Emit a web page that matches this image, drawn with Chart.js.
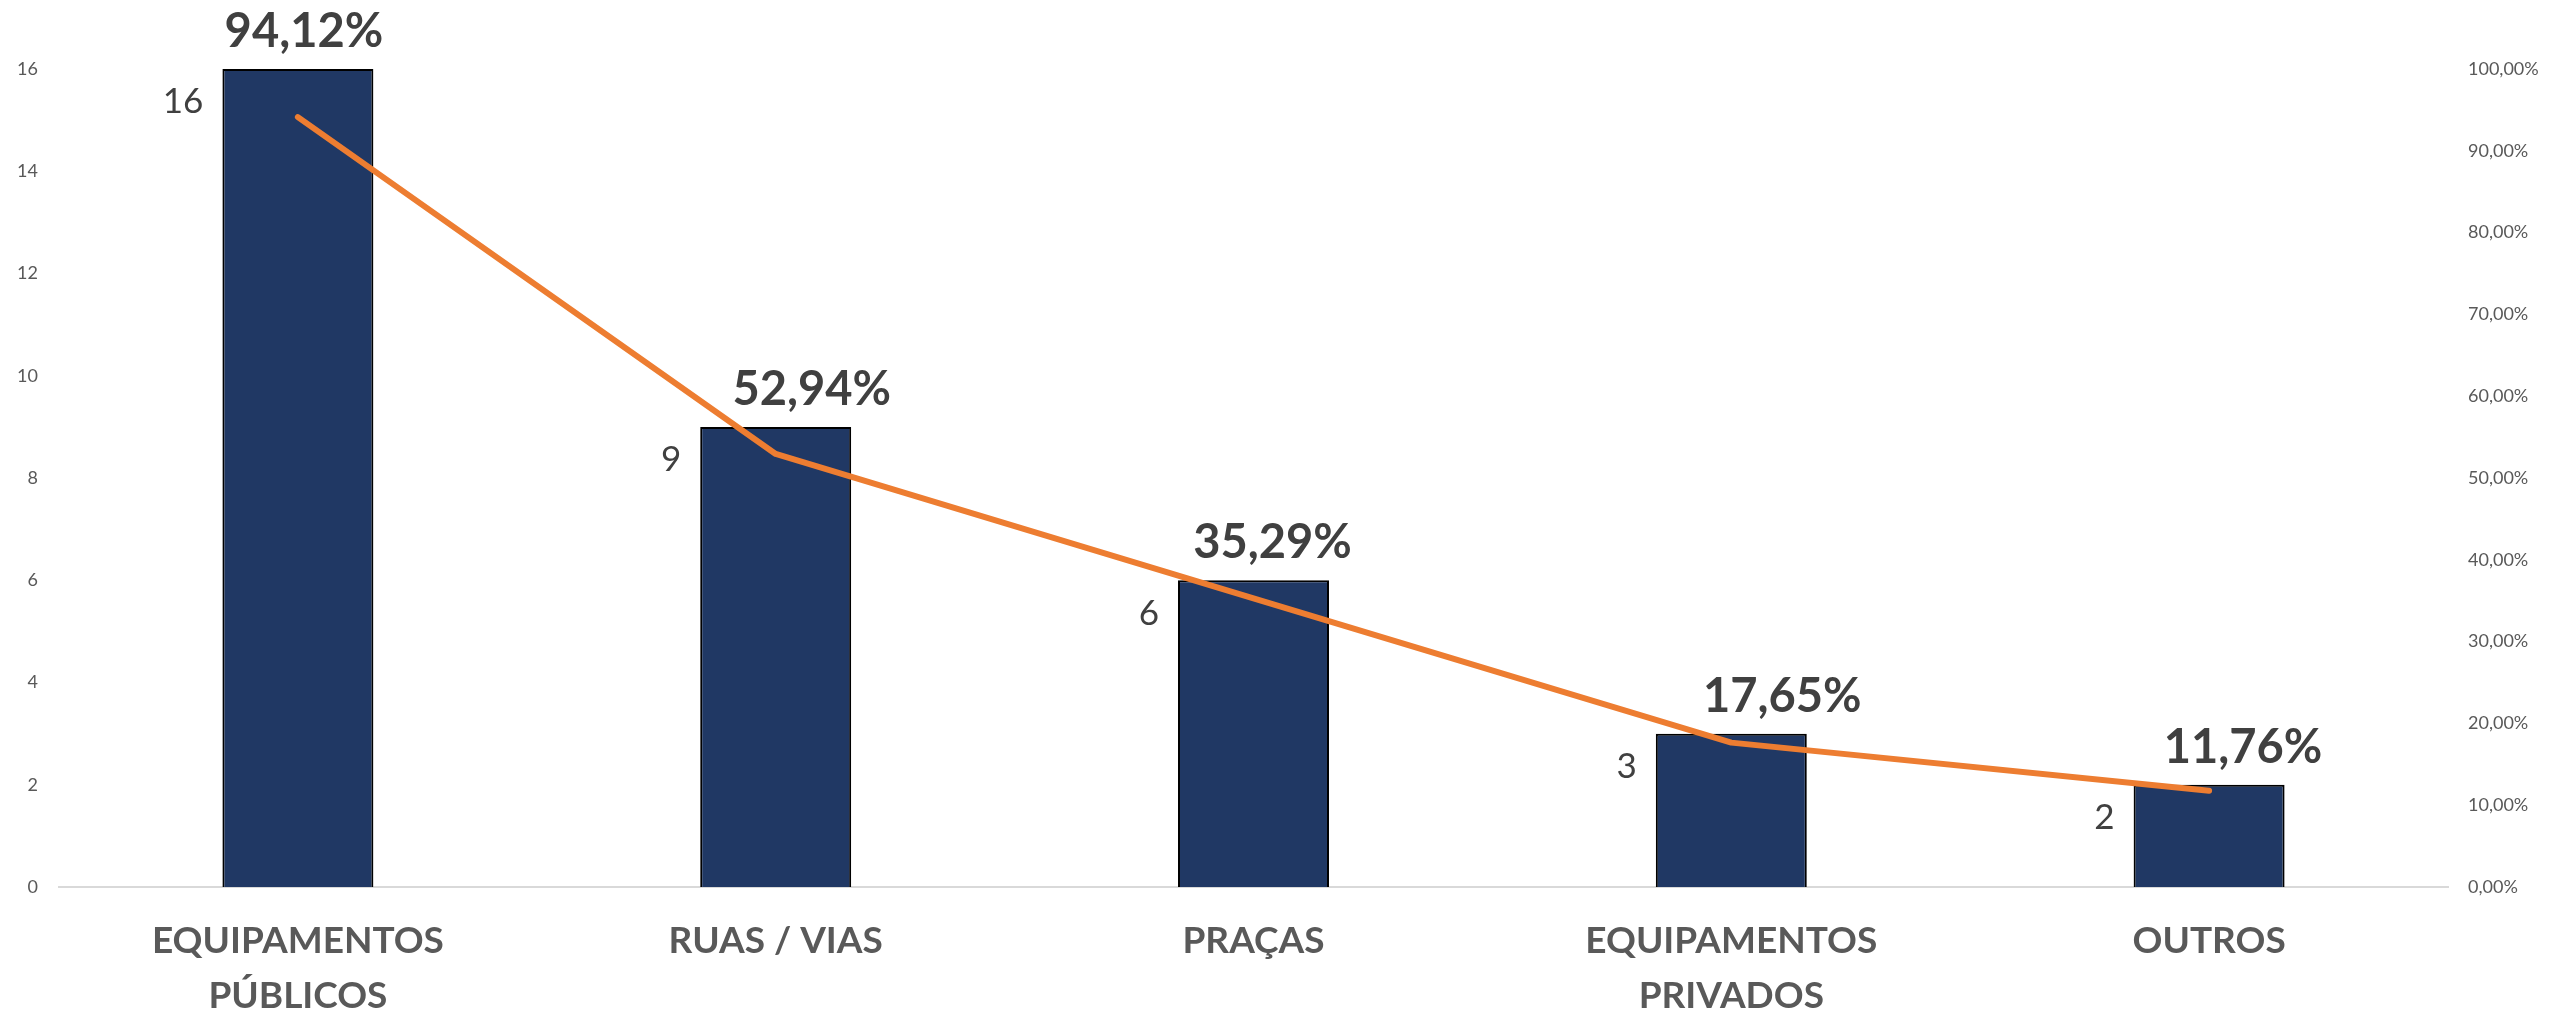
<!DOCTYPE html>
<html><head><meta charset="utf-8">
<script src="https://cdn.jsdelivr.net/npm/chart.js@4.4.0/dist/chart.umd.min.js"></script>
<style>html,body{margin:0;padding:0;background:#fff;overflow:hidden}#wrap{width:2549px;height:1011px}</style>
</head><body><div id="wrap"><canvas id="c" width="2549" height="1011"></canvas></div>
<script>
const categories = [["EQUIPAMENTOS","PÚBLICOS"], "RUAS / VIAS", "PRAÇAS", ["EQUIPAMENTOS","PRIVADOS"], "OUTROS"];
const counts = [16, 9, 6, 3, 2];
const percents = [94.12, 52.94, 35.29, 17.65, 11.76];

const FONT = 'Lato';
const fmtPct = v => v.toFixed(2).replace('.', ',') + '%';

const barLabels = {
  id: 'barLabels',
  afterDatasetsDraw(chart, args, opts) {
    const ctx = chart.ctx;
    const meta = chart.getDatasetMeta(1);
    meta.data.forEach((bar, i) => {
      const left = bar.x - bar.width / 2;
      ctx.save();
      ctx.fillStyle = '#404040';
      ctx.textBaseline = 'middle';
      ctx.font = '35px ' + FONT;
      ctx.textAlign = 'right';
      ctx.fillText(String(counts[i]), left - 19, bar.y + 33);
      ctx.font = 'bold 47px ' + FONT;
      ctx.textAlign = 'center';
      ctx.fillText(fmtPct(percents[i]), bar.x + opts.nudge[i], bar.y - 37);
      ctx.restore();
    });
  }
};

new Chart(document.getElementById('c'), {
  data: {
    labels: categories,
    datasets: [
      {
        type: 'line', data: percents, yAxisID: 'y1', order: 0,
        borderColor: '#ED7D31', borderWidth: 6, pointRadius: 0, tension: 0,
        borderCapStyle: 'round', borderJoinStyle: 'round', fill: false
      },
      {
        type: 'bar', data: counts, yAxisID: 'y', order: 1,
        backgroundColor: '#203864', borderColor: '#000000', borderWidth: 2,
        categoryPercentage: 1, barPercentage: 0.316
      }
    ]
  },
  options: {
    responsive: false, animation: false, devicePixelRatio: 1,
    layout: { padding: { top: 69, left: 0, right: 0, bottom: 0 } },
    plugins: { legend: { display: false }, tooltip: { enabled: false },
      barLabels: { nudge: [6, 36, 19, 51, 34] } },
    scales: {
      x: {
        grid: { display: false, drawTicks: false },
        border: { display: true, color: '#d9d9d9', width: 2 },
        ticks: { color: '#595959', font: { family: FONT, size: 37, weight: 'bold', lineHeight: 1.48 }, padding: 27, maxRotation: 0, autoSkip: false },
        afterFit: s => { s.height = 124; }
      },
      y: {
        position: 'left', min: 0, max: 16,
        grid: { display: false, drawTicks: false },
        border: { display: false },
        ticks: { stepSize: 2, color: '#595959', font: { family: FONT, size: 18 }, padding: 21 },
        afterFit: s => { s.width = 59; }
      },
      y1: {
        position: 'right', min: 0, max: 100,
        grid: { display: false, drawTicks: false },
        border: { display: false },
        ticks: { stepSize: 10, color: '#595959', font: { family: FONT, size: 18 }, padding: 20, callback: v => fmtPct(v) },
        afterFit: s => { s.width = 101; }
      }
    }
  },
  plugins: [barLabels]
});
</script></body></html>
